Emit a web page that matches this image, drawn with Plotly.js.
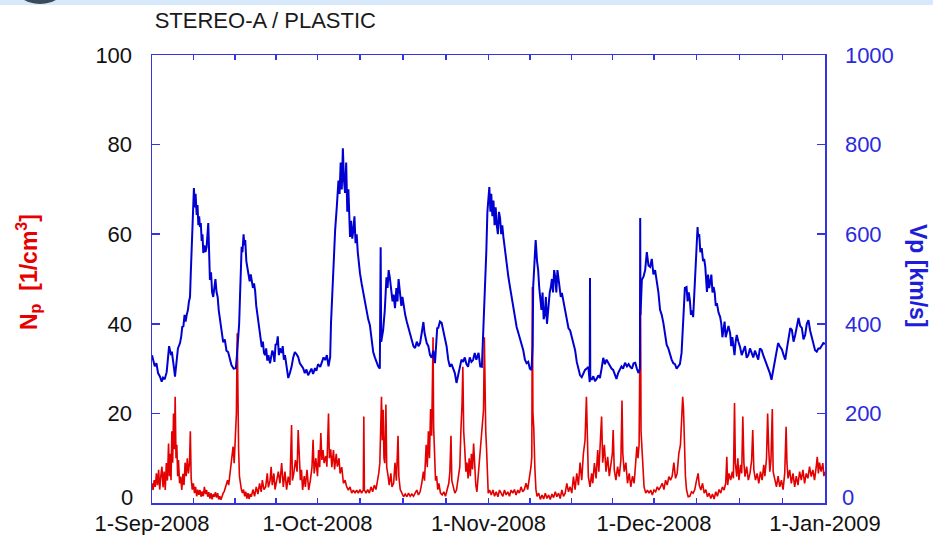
<!DOCTYPE html>
<html>
<head>
<meta charset="utf-8">
<script src="https://cdn.plot.ly/plotly-3.0.1.min.js"></script>
<style>
  html, body { margin: 0; padding: 0; background: #ffffff; }
  #wrap { position: relative; width: 933px; height: 535px; overflow: hidden; }
  #chart { position: absolute; left: 0; top: 0; width: 933px; height: 535px; }
  #band { position: absolute; left: 0; top: 0; width: 933px; height: 5px; background: #d7e8fb; z-index: 2; }
  #logo { position: absolute; left: 12px; top: -42px; width: 56px; height: 46px; border-radius: 50%; background: #3c4b5c; z-index: 3; }
</style>
</head>
<body>
<div id="wrap">
  <div id="chart"></div>
  <div id="band"></div>
  <div id="logo"></div>
</div>
<script>
// ---- data (days since 1-Sep-2008) ----
const chartTitle = "STEREO-A / PLASTIC";
const monthStarts = ["2008-09-01", "2008-10-01", "2008-11-01", "2008-12-01", "2009-01-01"];
const monthLabels = ["1-Sep-2008", "1-Oct-2008", "1-Nov-2008", "1-Dec-2008", "1-Jan-2009"];
const nTicks = [0, 20, 40, 60, 80, 100];
const vTicks = [0, 200, 400, 600, 800, 1000];

// proton speed Vp [km/s]
const vDays = [0.0,0.2,0.5,0.8,1.1,1.45,1.76,2.0,2.3,2.66,2.9,3.1,3.26,3.45,3.6,3.8,4.0,4.17,4.4,4.7,5.08,5.3,5.5,5.68,5.9,6.1,6.29,6.5,6.7,6.89,7.05,7.19,7.35,7.49,7.6,7.75,7.9,8.1,8.25,8.4,8.55,8.7,8.85,9.0,9.15,9.3,9.5,9.7,9.9,10.2,10.3,10.5,10.7,10.9,11.1,11.3,11.5,11.7,11.9,12.1,12.3,12.6,12.9,13.2,13.5,13.8,14.1,14.4,14.8,15.2,15.4,15.6,15.8,15.95,16.1,16.25,16.4,16.6,16.75,16.9,17.1,17.3,17.5,17.7,17.9,18.1,18.3,18.5,18.7,18.9,19.1,19.3,19.5,19.7,19.9,20.1,20.3,20.5,20.7,20.9,21.1,21.4,21.6,21.8,22.0,22.2,22.4,22.6,22.8,23.0,23.2,23.5,23.7,23.9,24.1,24.4,24.7,25.0,25.3,25.6,25.9,26.2,26.5,26.8,27.1,27.4,27.7,28.0,28.3,28.6,28.9,29.2,29.55,29.8,30.1,30.5,30.8,31.1,31.4,31.7,32.0,32.3,32.45,32.75,33.0,33.2,33.5,33.8,34.0,34.2,34.4,34.6,34.8,35.0,35.2,35.4,35.6,35.9,36.1,36.3,36.5,36.7,36.9,37.1,37.3,37.5,37.7,38.0,38.3,38.6,38.9,39.2,39.5,39.8,40.1,40.4,40.7,41.0,41.3,41.45,41.55,41.9,42.2,42.5,42.7,42.9,43.1,43.3,43.6,43.8,44.05,44.3,44.5,44.7,45.0,45.2,45.4,45.6,45.9,46.2,46.5,46.8,47.1,47.4,47.7,48.0,48.3,48.6,48.9,49.2,49.4,49.8,50.1,50.4,50.7,51.0,51.3,51.5,51.7,51.9,52.2,52.5,52.8,53.1,53.4,53.7,54.0,54.3,54.6,54.9,55.2,55.5,55.8,56.1,56.4,56.7,57.0,57.3,57.6,57.9,58.2,58.5,58.8,59.2,59.5,59.8,60.06,60.4,60.6,60.8,61.0,61.15,61.35,61.5,61.7,61.9,62.1,62.3,62.5,62.7,62.9,63.1,63.3,63.5,63.7,64.0,64.3,64.6,64.9,65.2,65.5,65.8,66.1,66.4,66.7,67.0,67.3,67.6,67.9,68.2,68.5,68.8,69.0,69.1,69.3,69.55,69.8,70.0,70.2,70.4,70.6,70.8,71.0,71.2,71.4,71.6,71.8,72.1,72.3,72.5,72.7,72.9,73.1,73.3,73.5,73.7,73.9,74.1,74.3,74.7,75.0,75.2,75.5,75.8,76.1,76.4,76.7,77.0,77.3,77.6,77.9,78.2,78.5,78.8,79.1,79.35,79.4,79.45,79.7,80.0,80.3,80.6,80.9,81.2,81.5,81.8,82.1,82.4,82.7,83.0,83.3,83.6,83.9,84.2,84.5,84.8,85.1,85.4,85.75,86.1,86.4,86.7,87.0,87.3,87.6,87.9,88.2,88.45,88.5,88.55,88.8,89.1,89.4,89.7,90.0,90.3,90.6,90.9,91.2,91.5,91.8,92.1,92.4,92.7,93.0,93.3,93.6,93.9,94.2,94.5,94.8,95.1,95.4,95.7,96.0,96.2,96.4,96.6,96.9,97.1,97.3,97.5,97.7,97.9,98.1,98.3,98.5,98.7,98.9,99.0,99.2,99.4,99.65,99.9,100.1,100.3,100.5,100.6,100.8,101.0,101.2,101.4,101.6,101.8,102.0,102.2,102.4,102.7,103.0,103.2,103.4,103.6,103.8,104.0,104.2,104.5,104.8,105.0,105.2,105.4,105.6,105.8,106.0,106.3,106.6,106.9,107.2,107.5,107.8,108.1,108.4,108.7,109.0,109.3,109.6,109.9,110.2,110.5,110.8,111.1,111.4,111.7,112.0,112.3,112.6,112.9,113.2,113.5,113.8,114.2,114.5,114.8,115.1,115.4,115.7,116.0,116.3,116.6,116.9,117.2,117.5,117.8,118.1,118.4,118.7,119.0,119.3,119.6,119.9,120.2,120.5,120.8,121.1,121.4,121.7,122.0];
const vSpeed = [330,318,305,312,290,282,271,280,276,292,320,350,341,330,338,310,300,282,310,345,357,372,395,393,420,405,420,430,450,460,520,565,640,665,703,660,690,643,665,620,640,616,625,585,600,558,575,560,571,625,560,498,515,470,460,490,500,471,460,430,413,385,359,365,340,337,320,308,300,301,330,364,400,460,530,572,560,600,575,587,540,525,516,495,510,493,480,490,473,440,420,402,390,370,348,360,335,330,345,318,330,312,325,340,335,315,355,353,372,330,345,335,350,320,330,300,279,290,304,325,337,332,326,312,305,301,290,298,285,292,300,288,301,295,310,304,315,325,319,330,305,326,402,498,560,609,661,720,690,760,700,792,720,692,760,650,700,594,630,590,609,640,580,600,560,530,513,490,469,445,433,410,397,370,337,325,312,305,300,571,360,386,430,504,480,520,504,480,450,465,435,480,450,500,471,440,460,442,420,404,390,379,360,350,346,360,350,357,380,404,380,357,350,330,324,340,312,360,390,391,405,402,385,364,350,320,304,310,297,290,268,285,297,320,315,325,310,304,325,315,319,335,320,335,305,304,386,475,560,650,690,705,650,690,640,675,620,660,620,600,650,636,600,620,594,560,531,505,482,460,431,415,393,380,368,355,341,320,312,315,300,297,350,482,540,587,540,520,480,450,431,470,410,420,460,400,435,470,482,500,470,520,504,470,520,500,480,460,469,440,420,413,390,385,371,355,341,315,297,285,281,290,297,300,304,270,502,280,275,283,272,277,285,279,300,324,310,320,313,305,300,297,285,277,290,297,305,300,313,305,310,304,300,312,313,300,290,300,636,420,498,505,520,560,530,527,545,510,520,498,470,431,420,402,380,353,345,330,320,312,310,300,304,310,335,380,424,480,482,450,470,453,420,430,415,470,540,590,616,594,600,560,569,540,545,527,480,471,510,480,493,510,470,482,470,440,446,425,415,400,370,386,405,370,380,395,379,350,370,346,330,360,375,360,348,330,341,350,324,330,345,335,325,340,330,320,345,342,330,320,312,300,290,275,295,313,340,357,350,342,330,320,345,368,390,386,360,375,395,413,395,391,365,375,400,408,385,370,355,341,338,345,345,350,357,355];

// proton density Np [1/cm^3]
const nDays = [0.0,0.2,0.4,0.6,0.8,1.0,1.2,1.4,1.6,1.8,2.0,2.2,2.4,2.6,2.8,3.0,3.15,3.3,3.45,3.6,3.75,3.9,4.05,4.2,4.35,4.5,4.65,4.8,5.0,5.2,5.4,5.6,5.8,6.0,6.2,6.4,6.6,6.8,6.95,7.1,7.3,7.5,7.7,7.9,8.1,8.3,8.5,8.7,8.9,9.1,9.3,9.5,9.7,9.9,10.1,10.3,10.5,10.7,10.9,11.1,11.3,11.5,11.7,11.9,12.1,12.3,12.5,12.7,12.9,13.1,13.3,13.5,13.7,13.9,14.1,14.3,14.5,14.7,14.9,15.1,15.3,15.45,15.55,15.7,15.85,16.0,16.2,16.4,16.6,16.8,17.0,17.2,17.4,17.6,17.8,18.0,18.3,18.6,18.9,19.2,19.5,19.8,20.0,20.3,20.6,20.9,21.1,21.4,21.6,21.8,22.1,22.3,22.6,22.9,23.2,23.5,23.8,24.1,24.4,24.7,25.0,25.3,25.45,25.7,26.0,26.3,26.5,26.7,26.9,27.1,27.3,27.6,27.8,28.1,28.4,28.7,29.0,29.2,29.4,29.7,30.0,30.2,30.4,30.6,30.8,31.0,31.2,31.5,31.7,32.0,32.15,32.4,32.6,32.9,33.1,33.4,33.6,33.9,34.1,34.4,34.7,35.0,35.3,35.6,35.9,36.2,36.5,36.8,37.1,37.4,37.7,38.0,38.3,38.4,38.5,38.8,39.1,39.4,39.7,40.0,40.3,40.6,40.9,41.1,41.3,41.5,41.6,41.75,41.9,42.05,42.2,42.4,42.55,42.8,43.0,43.3,43.5,43.8,44.05,44.3,44.6,44.75,45.0,45.3,45.6,45.9,46.2,46.5,46.8,47.1,47.4,47.7,48.0,48.3,48.6,48.9,49.2,49.4,49.7,49.9,50.1,50.3,50.5,50.7,50.85,50.95,51.05,51.2,51.4,51.6,51.8,52.0,52.3,52.6,52.9,53.2,53.5,53.8,54.0,54.2,54.35,54.6,54.9,55.2,55.5,55.8,56.0,56.2,56.35,56.5,56.7,56.9,57.1,57.3,57.5,57.7,57.9,58.1,58.3,58.5,58.7,58.9,59.1,59.3,59.5,59.7,59.9,60.1,60.25,60.35,60.5,60.65,60.8,60.95,61.2,61.5,61.8,62.1,62.4,62.7,63.0,63.3,63.6,63.9,64.2,64.5,64.8,65.1,65.4,65.7,66.0,66.3,66.6,66.9,67.2,67.5,67.8,68.1,68.4,68.7,68.85,68.95,69.05,69.2,69.4,69.6,69.8,70.1,70.4,70.7,71.0,71.3,71.6,71.9,72.2,72.5,72.8,73.1,73.4,73.7,74.0,74.3,74.6,74.9,75.2,75.5,75.8,76.1,76.4,76.7,77.0,77.3,77.6,77.9,78.2,78.5,78.75,78.9,79.1,79.4,79.7,79.9,80.2,80.5,80.8,81.0,81.3,81.5,81.7,82.0,82.3,82.6,82.9,83.2,83.45,83.6,83.8,84.1,84.4,84.7,85.0,85.2,85.35,85.6,85.9,86.2,86.5,86.8,87.1,87.4,87.7,87.9,88.1,88.3,88.45,88.55,88.65,88.8,89.0,89.2,89.5,89.8,90.1,90.4,90.7,91.0,91.3,91.6,91.9,92.2,92.5,92.8,93.1,93.4,93.7,94.0,94.3,94.6,94.9,95.2,95.5,95.8,96.0,96.2,96.35,96.5,96.7,96.9,97.2,97.5,97.8,98.1,98.4,98.7,99.0,99.2,99.5,99.8,100.1,100.4,100.7,101.0,101.3,101.6,101.9,102.2,102.5,102.8,103.1,103.4,103.7,104.0,104.2,104.35,104.6,104.9,105.2,105.4,105.6,105.75,106.0,106.2,106.4,106.7,106.9,107.1,107.3,107.5,107.8,108.1,108.4,108.7,108.9,109.1,109.4,109.7,110.0,110.3,110.6,110.9,111.1,111.4,111.6,111.8,112.0,112.2,112.45,112.6,112.9,113.2,113.5,113.8,114.1,114.4,114.7,114.95,115.1,115.3,115.6,115.9,116.2,116.5,116.8,117.1,117.4,117.7,118.0,118.3,118.6,118.9,119.2,119.5,119.8,120.1,120.4,120.6,120.8,121.0,121.3,121.6,121.8,122.0];
const nDensity = [4.4,2.9,5.1,3.6,6.6,4.0,7.4,3.0,6.0,8.1,3.5,7.0,2.9,8.9,5.0,13.3,6.0,11.0,5.1,16.0,9.0,20.0,12.0,23.7,10.0,13.0,6.0,9.6,4.4,5.9,2.9,6.5,4.0,9.0,6.0,10.0,6.6,9.0,16.0,5.5,3.0,4.4,2.2,3.6,1.5,3.0,1.8,2.9,1.4,2.6,1.5,3.6,2.0,2.9,1.4,2.4,1.0,2.2,0.8,2.0,1.4,2.4,1.2,2.2,0.8,1.5,0.7,1.8,2.2,2.6,3.6,4.4,5.1,4.0,6.0,8.9,10.0,12.6,8.9,14.0,20.0,37.9,18.0,12.0,6.0,4.4,3.0,2.2,3.0,1.5,2.5,1.0,2.2,0.9,2.0,1.4,3.0,1.5,3.6,2.0,4.4,2.5,5.1,3.0,3.6,6.6,3.5,5.0,8.1,4.0,6.6,3.0,5.0,7.0,4.4,8.9,3.6,7.0,3.0,5.9,4.0,17.4,5.0,6.6,9.6,7.0,16.3,8.9,5.1,7.4,2.9,6.0,3.6,7.4,2.9,5.0,8.0,14.1,6.6,10.0,6.0,11.8,8.0,15.6,9.6,11.8,8.9,10.5,8.1,20.0,10.0,12.0,8.0,11.8,7.5,11.0,8.1,10.0,6.6,8.0,4.4,5.1,3.6,2.9,3.6,2.2,2.9,2.2,2.9,2.2,3.0,2.2,2.9,19.3,2.9,2.2,3.0,2.2,3.6,2.5,4.0,3.0,5.1,6.6,8.9,16.0,23.7,14.0,20.8,10.0,8.9,22.0,8.0,6.0,4.0,6.6,3.6,4.4,9.0,5.0,15.0,5.9,3.0,2.2,1.4,2.0,1.4,2.2,1.5,2.0,1.5,2.2,2.9,1.8,2.5,4.4,7.0,5.0,13.0,8.0,16.0,10.0,21.0,15.0,27.0,37.0,17.0,9.6,5.0,6.0,3.0,4.4,2.2,1.8,2.5,1.5,3.0,4.4,7.0,15.0,5.0,3.6,2.2,2.9,5.5,8.1,16.3,22.0,30.4,16.0,12.0,7.0,9.0,5.5,10.0,6.0,11.0,7.5,13.3,8.5,4.0,2.5,5.5,9.0,13.0,15.5,19.3,20.8,37.0,21.0,16.0,12.0,6.0,2.2,2.9,1.8,2.9,1.5,2.5,1.4,2.9,2.2,1.5,2.9,1.8,2.5,1.5,2.9,2.2,3.0,1.8,2.9,2.2,3.6,2.5,3.0,4.4,3.0,5.1,8.1,10.3,48.2,20.0,17.0,8.0,3.0,1.5,2.2,0.8,1.8,0.9,2.2,1.0,1.8,0.8,2.0,1.2,2.5,1.4,2.2,1.0,2.9,1.5,2.2,4.4,2.5,3.6,2.2,5.9,3.0,6.6,4.0,9.0,5.1,11.0,14.0,23.7,12.0,5.9,3.6,6.6,4.4,8.9,5.5,11.8,7.0,13.0,19.3,9.0,13.0,7.0,10.3,6.0,9.0,11.0,16.3,7.4,5.1,8.1,5.9,9.6,22.9,11.0,7.0,9.0,4.4,6.6,3.6,6.0,4.4,8.9,12.6,10.0,13.0,34.9,49.7,16.0,12.0,6.0,3.6,2.2,2.9,2.2,2.9,1.8,2.9,2.5,3.6,2.9,3.6,4.4,3.0,5.1,4.0,5.9,5.1,6.0,9.0,5.5,6.6,11.0,13.0,19.0,23.7,21.0,12.0,5.9,2.9,1.4,1.5,2.5,2.2,3.0,5.0,6.6,4.0,2.9,4.4,2.2,3.0,1.4,2.2,1.0,2.0,0.9,2.5,1.5,3.0,2.2,3.6,2.9,4.4,10.3,4.0,6.6,5.1,7.0,5.5,22.3,8.9,5.9,10.0,5.1,8.5,6.6,19.3,8.9,5.9,8.1,5.1,6.6,9.5,16.3,7.4,5.1,6.6,4.4,7.0,5.1,8.5,6.0,10.0,20.0,12.0,7.0,9.5,21.0,7.0,5.1,3.6,6.0,3.6,5.1,3.0,6.6,17.0,9.0,5.5,7.4,4.4,6.6,3.6,6.0,4.0,7.0,5.1,7.4,4.4,6.6,5.5,8.1,5.9,7.4,5.1,8.0,10.3,6.6,9.0,7.0,8.9,6.0,7.0];

// ---- helpers ----
const START = Date.UTC(2008, 8, 1);
const DAY = 86400000;
function dayToDate(d) { return new Date(START + d * DAY).toISOString().replace('T', ' ').replace('Z', ''); }

// ticks: each month split into 4 equal parts, labels only at month starts
const tickVals = [], tickText = [];
for (let i = 0; i < monthStarts.length; i++) {
  const a = Date.parse(monthStarts[i] + 'T00:00:00Z');
  tickVals.push(monthStarts[i]); tickText.push(monthLabels[i]);
  if (i < monthStarts.length - 1) {
    const b = Date.parse(monthStarts[i + 1] + 'T00:00:00Z');
    for (let k = 1; k < 4; k++) {
      tickVals.push(new Date(a + (b - a) * k / 4).toISOString().replace('T', ' ').replace('Z', ''));
      tickText.push('');
    }
  }
}
// the "0" labels sit a little above their tick in the reference: draw them as annotations
const nTickText = nTicks.map(v => v === 0 ? '' : String(v));
const vTickText = vTicks.map(v => v === 0 ? '' : String(v));

const FRAME = '#3434e4';
const BLUE = '#0000d2';
const RED = '#e20000';
const FONT = 'Liberation Sans, Arial, Helvetica, sans-serif';

const traces = [
  {
    x: vDays.map(dayToDate), y: vSpeed, yaxis: 'y2', type: 'scatter', mode: 'lines',
    line: { color: BLUE, width: 2 }, hoverinfo: 'skip', showlegend: false
  },
  {
    x: nDays.map(dayToDate), y: nDensity, yaxis: 'y', type: 'scatter', mode: 'lines',
    line: { color: RED, width: 1.6 }, hoverinfo: 'skip', showlegend: false
  }
];

const layout = {
  width: 933, height: 535,
  margin: { l: 152, r: 108, t: 55, b: 32, pad: 0 },
  paper_bgcolor: '#ffffff', plot_bgcolor: '#ffffff',
  font: { family: FONT, size: 22, color: '#111111' },
  title: {
    text: chartTitle, font: { family: FONT, size: 22, color: '#1a1a1a' },
    xref: 'paper', x: 0.004, xanchor: 'left', yref: 'container', y: 1 - 20 / 535, yanchor: 'middle'
  },
  xaxis: {
    type: 'date', range: [monthStarts[0], monthStarts[monthStarts.length - 1]],
    tickmode: 'array', tickvals: tickVals, ticktext: tickText,
    ticks: 'inside', ticklen: 5, tickwidth: 1.5, tickcolor: FRAME,
    showline: true, linecolor: FRAME, linewidth: 1.5, mirror: 'ticks',
    showgrid: false, zeroline: false, tickangle: 0,
    tickfont: { family: FONT, size: 22, color: '#111111' }, ticklabelstandoff: 0
  },
  yaxis: {
    range: [0, 100], tickmode: 'array', tickvals: nTicks, ticktext: nTickText,
    ticks: 'inside', ticklen: 8, tickwidth: 1.5, tickcolor: FRAME,
    showline: true, linecolor: FRAME, linewidth: 1.5, mirror: false,
    showgrid: false, zeroline: false,
    tickfont: { family: FONT, size: 22, color: '#111111' }, ticklabelstandoff: 14
  },
  yaxis2: {
    overlaying: 'y', side: 'right', range: [0, 1000], tickmode: 'array', tickvals: vTicks, ticktext: vTickText,
    ticks: 'inside', ticklen: 8, tickwidth: 1.5, tickcolor: FRAME,
    showline: true, linecolor: FRAME, linewidth: 1.5,
    showgrid: false, zeroline: false,
    tickfont: { family: FONT, size: 22, color: '#2a2ae0' }, ticklabelstandoff: 14
  },
  annotations: [
    {
      text: '<b>N<sub>p</sub>  [1/cm<sup>3</sup>]</b>', textangle: -90,
      xref: 'paper', yref: 'paper', x: (28 - 152) / 673, y: (503 - 272) / 448,
      xanchor: 'center', yanchor: 'middle', showarrow: false,
      font: { family: FONT, size: 23, color: '#e60000' }
    },
    {
      text: '<b>Vp [km/s]</b>', textangle: 90,
      xref: 'paper', yref: 'paper', x: (918 - 152) / 673, y: (503 - 276) / 448,
      xanchor: 'center', yanchor: 'middle', showarrow: false,
      font: { family: FONT, size: 23, color: '#1e1ed8' }
    },
    {
      text: String(nTicks[0]), xref: 'paper', yref: 'y', x: 0, y: nTicks[0],
      xanchor: 'right', yanchor: 'middle', xshift: -17, yshift: 6, showarrow: false,
      font: { family: FONT, size: 22, color: '#111111' }
    },
    {
      text: String(vTicks[0]), xref: 'paper', yref: 'y2', x: 1, y: vTicks[0],
      xanchor: 'left', yanchor: 'middle', xshift: 15, yshift: 6, showarrow: false,
      font: { family: FONT, size: 22, color: '#2a2ae0' }
    }
  ]
};

Plotly.newPlot('chart', traces, layout, { staticPlot: true, displayModeBar: false });
</script>
</body>
</html>
